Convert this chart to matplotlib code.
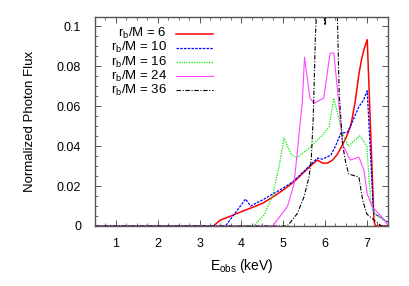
import matplotlib
matplotlib.use("Agg")
import matplotlib.pyplot as plt
from matplotlib.lines import Line2D
from matplotlib.ticker import MultipleLocator

plt.rcParams['font.family'] = ['Liberation Sans', 'DejaVu Sans']
plt.rcParams['mathtext.fontset'] = 'custom'
plt.rcParams['mathtext.rm'] = 'Liberation Sans'
plt.rcParams['mathtext.it'] = 'Liberation Sans:italic'

labels = ["r$_{\\rm b}$/M = 6", "r$_{\\rm b}$/M = 10", "r$_{\\rm b}$/M = 16",
          "r$_{\\rm b}$/M = 24", "r$_{\\rm b}$/M = 36"]

# r_b/M = 6
e6 = [0.5, 3.33, 3.5, 3.75, 4.0, 4.25, 4.5, 4.75, 5.0, 5.25, 5.5, 5.7, 5.82, 5.94, 6.06, 6.18, 6.3, 6.4, 6.5, 6.62, 6.72, 6.81, 6.88, 6.94, 7.01, 7.17, 7.2, 7.5]
f6 = [0.0, 0.0, 0.003, 0.005, 0.0072, 0.0092, 0.0113, 0.0145, 0.018, 0.022, 0.027, 0.031, 0.033, 0.0315, 0.0315, 0.033, 0.036, 0.040, 0.044, 0.0505, 0.062, 0.076, 0.084, 0.089, 0.0933, 0.003, 0.0, 0.0]
# r_b/M = 10
e10 = [0.5, 3.62, 4.1, 4.22, 4.5, 4.78, 5.0, 5.22, 5.4, 5.61, 5.82, 5.94, 6.14, 6.25, 6.38, 6.54, 6.65, 6.81, 6.92, 7.01, 7.16, 7.5]
f10 = [0.0, 0.0, 0.0135, 0.010, 0.013, 0.0163, 0.019, 0.022, 0.0255, 0.0297, 0.034, 0.0335, 0.0355, 0.040, 0.0465, 0.047, 0.052, 0.0597, 0.063, 0.0677, 0.0065, 0.002]
# r_b/M = 16
e16 = [0.5, 4.29, 4.54, 4.74, 4.9, 5.02, 5.18, 5.32, 5.62, 5.94, 6.1, 6.21, 6.42, 6.56, 6.83, 7.0, 7.09, 7.19, 7.5]
f16 = [0.0, 0.0, 0.0055, 0.0147, 0.0297, 0.044, 0.0363, 0.034, 0.039, 0.0455, 0.0497, 0.064, 0.046, 0.040, 0.0452, 0.040, 0.013, 0.006, 0.0017]
# r_b/M = 24
e24 = [0.5, 4.75, 5.1, 5.26, 5.38, 5.46, 5.51, 5.64, 5.74, 5.97, 6.12, 6.21, 6.3, 6.42, 6.6, 6.81, 6.93, 7.01, 7.13, 7.35, 7.5]
f24 = [0.0, 0.0, 0.0097, 0.021, 0.046, 0.063, 0.0845, 0.064, 0.0615, 0.064, 0.0865, 0.0866, 0.068, 0.041, 0.033, 0.0345, 0.028, 0.016, 0.0095, 0.0047, 0.0005]
# r_b/M = 36
e36 = [0.5, 5.1, 5.34, 5.5, 5.62, 5.67, 5.72, 5.77, 5.84, 5.93, 6.0, 6.07, 6.2, 6.29, 6.34, 6.42, 6.5, 6.57, 6.81, 6.9, 7.0, 7.2, 7.35, 7.5]
f36 = [0.0, 0.0, 0.0063, 0.0147, 0.0247, 0.033, 0.055, 0.095, 0.125, 0.115, 0.1005, 0.115, 0.13, 0.11, 0.066, 0.041, 0.031, 0.026, 0.0245, 0.013, 0.006, 0.0025, 0.0, 0.0]

series = [(e6, f6), (e10, f10), (e16, f16), (e24, f24), (e36, f36)]
styles = [dict(color='#ff0000', lw=1.1, ls='-'),
          dict(color='#0000ff', lw=0.9, ls=(0, (2, 1))),
          dict(color='#00ee00', lw=0.9, ls=(0, (1, 1))),
          dict(color='#ff44ff', lw=0.8, ls='-'),
          dict(color='#000000', lw=0.8, ls=(0, (4, 1.5, 1, 1.5)))]

fig = plt.figure(figsize=(4.09, 2.86), dpi=100)
ax = fig.add_axes([0.2323, 0.2098, 0.7157, 0.7297])

for (e, f), st in zip(series, styles):
    ax.plot(e, f, **st)

ax.set_xlim(0.5, 7.5)
ax.set_ylim(0, 0.1045)
ax.xaxis.set_major_locator(MultipleLocator(1))
ax.xaxis.set_minor_locator(MultipleLocator(0.25))
ax.yaxis.set_minor_locator(MultipleLocator(0.005))
ax.set_yticks([0, 0.02, 0.04, 0.06, 0.08, 0.1])
ax.set_yticklabels(['0', '0.02', '0.04', '0.06', '0.08', '0.1'])
ax.tick_params(which='both', direction='in', top=True, right=True, labelsize=9, color='#555555')
ax.tick_params(axis='x', which='major', pad=9)
ax.tick_params(axis='y', which='major', pad=10)
ax.tick_params(which='major', length=4, width=0.7)
ax.tick_params(which='minor', length=2, width=0.6)
for sp in ax.spines.values():
    sp.set_color('#555555')
    sp.set_linewidth(1.0)

ax.set_xlabel("E$_{\\rm obs}$ (keV)", fontsize=10, labelpad=5)
ax.set_ylabel("Normalized Photon Flux", fontsize=9.5, labelpad=15)

# legend
for i, (lab, st) in enumerate(zip(labels, styles)):
    y = 0.922 - i * 0.068
    ax.text(0.246, y, lab, transform=ax.transAxes, ha='right', va='center', fontsize=9.5)
    ax.add_line(Line2D([0.277, 0.403], [y, y], transform=ax.transAxes, **st))

fig.savefig("out.png", dpi=100)
